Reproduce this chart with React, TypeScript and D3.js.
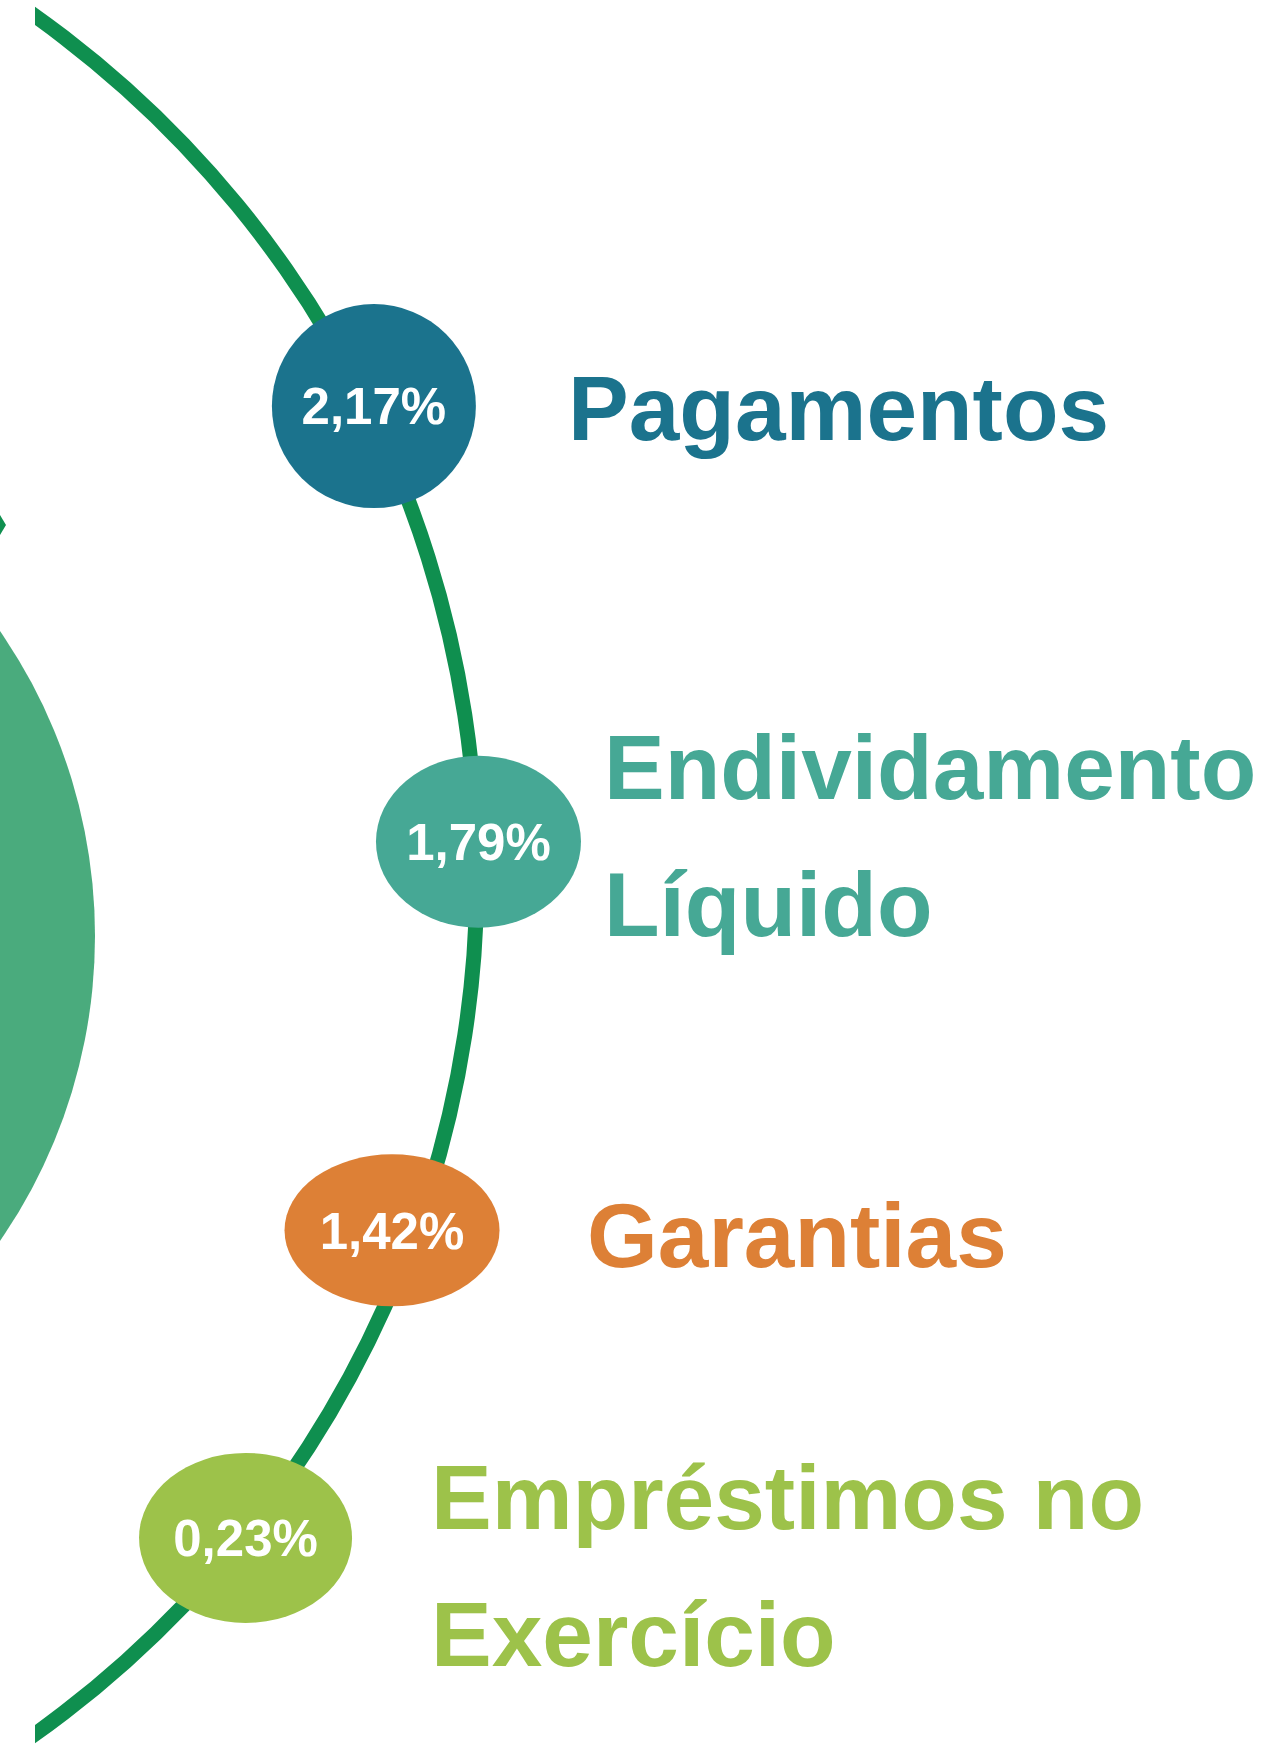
import React from "react";
import * as d3 from "d3";

// ---- data ----
const categories = ["Pagamentos", "Endividamento Líquido", "Garantias", "Empréstimos no Exercício"];
const values = [2.17, 1.79, 1.42, 0.23];
const labelLines = [["Pagamentos"], ["Endividamento", "Líquido"], ["Garantias"], ["Empréstimos no", "Exercício"]];
const bubbleColors = ["#1b738d", "#46a895", "#dd8036", "#9dc24a"];
const labelColors = ["#1b738d", "#46a895", "#dd8036", "#9dc24a"];

// ---- layout ----
const W = 1268;
const H = 1751;
const arcCenter = { x: -579, y: 875 };
const arcR = 1056;
const arcStroke = 15;
const lineColor = "#0f8f4f";
const blobColor = "#4aab7d";
// position of each bubble: angle (deg, y-down, 0 = right) and radial offset, plus ellipse radii
const bubbleLayout = [
  { ang: -26.2, dr: 6, rx: 102, ry: 102 },
  { ang: -1.8, dr: 2, rx: 102.5, ry: 86 },
  { ang: 20.1, dr: -22, rx: 107.5, ry: 76 },
  { ang: 38.8, dr: 2, rx: 106.5, ry: 85 },
];
const labelLayout = [
  { x: 568, y: 440 },
  { x: 604, y: 799 },
  { x: 587, y: 1267 },
  { x: 431, y: 1529 },
];
const labelFont = 91;
const labelLineGap = 137;
const valueFont = 51;

const fmt = (v: number) => d3.format(".2f")(v).replace(".", ",") + "%";

export default function App() {
  const toRad = d3.scaleLinear().domain([0, 180]).range([0, Math.PI]);

  const ringArc = d3
    .arc()
    .innerRadius(arcR - arcStroke / 2)
    .outerRadius(arcR + arcStroke / 2)
    .startAngle(toRad(20))
    .endAngle(toRad(160));

  const blobArc = d3
    .arc()
    .innerRadius(0)
    .outerRadius(537)
    .startAngle(0)
    .endAngle(2 * Math.PI);

  const bubbles = categories.map((c, i) => {
    const L = bubbleLayout[i];
    const phi = toRad(L.ang);
    const r = arcR + L.dr;
    return {
      cat: c,
      value: values[i],
      cx: arcCenter.x + r * Math.cos(phi),
      cy: arcCenter.y + r * Math.sin(phi),
      rx: L.rx,
      ry: L.ry,
      color: bubbleColors[i],
    };
  });

  const font = "'Liberation Sans', Arial, Helvetica, sans-serif";

  return (
    <svg
      width={W}
      height={H}
      viewBox={`0 0 ${W} ${H}`}
      style={{ position: "absolute", left: 0, top: 0, background: "#ffffff" }}
    >
      <defs>
        <clipPath id="arcClip">
          <rect x={35} y={0} width={W} height={H} />
        </clipPath>
      </defs>
      <rect x={0} y={0} width={W} height={H} fill="#ffffff" />
      {/* big green blob at left edge */}
      <path d={blobArc(null as any) as string} transform={`translate(-442,936)`} fill={blobColor} />
      {/* small tip of a line at left edge */}
      <path d="M0,515 L6,525 L0,535 Z" fill={lineColor} />
      {/* main arc line */}
      <g clipPath="url(#arcClip)">
        <path
          d={ringArc(null as any) as string}
          transform={`translate(${arcCenter.x},${arcCenter.y})`}
          fill={lineColor}
        />
      </g>
      {/* bubbles */}
      {bubbles.map((b, i) => (
        <g key={b.cat}>
          <ellipse cx={b.cx} cy={b.cy} rx={b.rx} ry={b.ry} fill={b.color} />
          <text
            x={b.cx}
            y={b.cy + valueFont * 0.36}
            textAnchor="middle"
            fill="#ffffff"
            fontFamily={font}
            fontWeight="bold"
            fontSize={valueFont}
          >
            {fmt(b.value)}
          </text>
        </g>
      ))}
      {/* labels */}
      {labelLines.map((lines, i) => (
        <text
          key={categories[i]}
          x={labelLayout[i].x}
          y={labelLayout[i].y}
          fill={labelColors[i]}
          fontFamily={font}
          fontWeight="bold"
          fontSize={labelFont}
        >
          {lines.map((ln, j) => (
            <tspan key={j} x={labelLayout[i].x} y={labelLayout[i].y + j * labelLineGap}>
              {ln}
            </tspan>
          ))}
        </text>
      ))}
    </svg>
  );
}
